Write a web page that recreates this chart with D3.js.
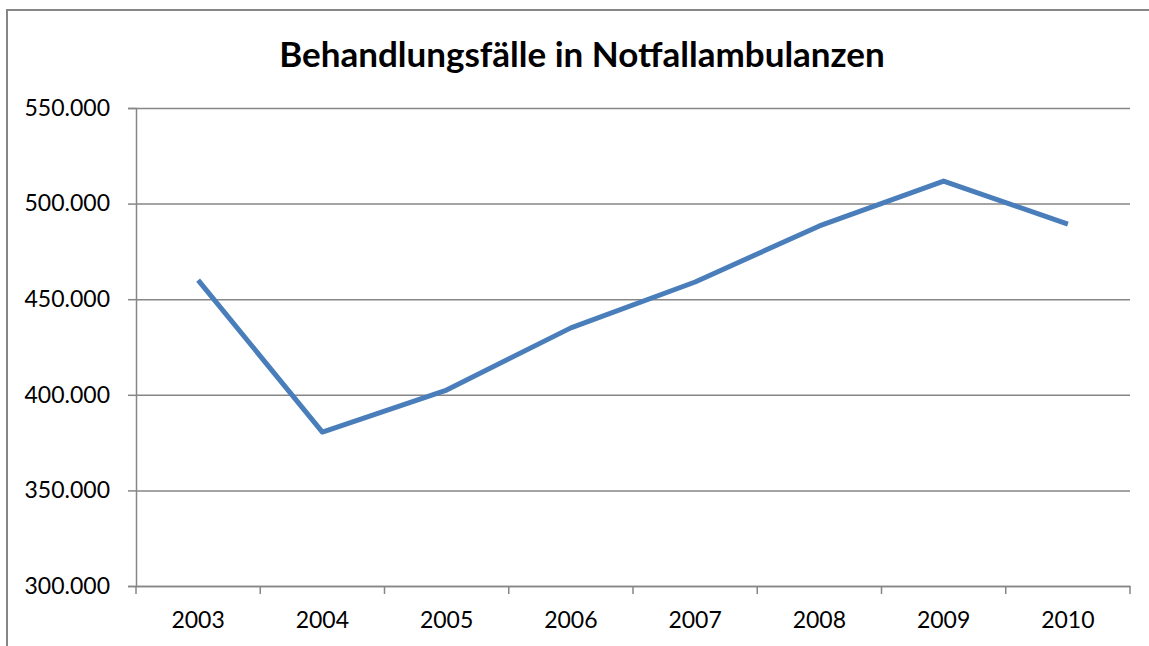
<!DOCTYPE html>
<html lang="de">
  <head>
    <meta charset="utf-8" />
    <title>Behandlungsfälle in Notfallambulanzen</title>
    <script src="https://d3js.org/d3.v7.min.js"></script>
    <style>
      body { margin: 0; background: #fff; }
      svg text { font-family: Lato, "Open Sans", sans-serif; fill: #000; }
      .axis path, .axis line { stroke: #868686; stroke-width: 1.5; }
      .grid line { stroke: #868686; stroke-width: 1.5; }
      .grid path { display: none; }
    </style>
  </head>
  <body>
    <svg id="chart" width="1149" height="646"></svg>
    <script>
      // Werte
      const years = ["2003", "2004", "2005", "2006", "2007", "2008", "2009", "2010"];
      const cases = [460000, 380500, 402500, 435000, 459000, 488300, 511800, 489300];
      const yTicks = [300000, 350000, 400000, 450000, 500000, 550000];
      const title = "Behandlungsfälle in Notfallambulanzen";

      const svg = d3.select("#chart");
      const margin = {top: 108, right: 19, bottom: 60, left: 136};
      const width = 1149 - margin.left - margin.right;
      const height = 646 - margin.top - margin.bottom;

      // äußerer Rahmen
      svg.append("rect")
        .attr("x", 7).attr("y", 10)
        .attr("width", 1160).attr("height", 660)
        .attr("fill", "none")
        .attr("stroke", "#868686")
        .attr("stroke-width", 2);

      svg.append("text")
        .attr("x", 582).attr("y", 67)
        .attr("text-anchor", "middle")
        .style("font-size", "35px")
        .style("font-weight", "bold")
        .text(title);

      const g = svg.append("g")
        .attr("transform", "translate(" + margin.left + "," + margin.top + ")");

      const x = d3.scaleBand().domain(years).range([0, width]);
      const y = d3.scaleLinear().domain([300000, 550000]).range([height, 0]);

      const fmt = d => d3.format(",")(d).replace(/,/g, ".");

      g.append("g")
        .attr("class", "grid")
        .call(d3.axisLeft(y).tickValues(yTicks).tickSize(-width).tickFormat(""));

      g.append("g")
        .attr("class", "axis")
        .call(d3.axisLeft(y).tickValues(yTicks).tickSizeOuter(0).tickSize(8).tickPadding(18).tickFormat(fmt))
        .selectAll("text")
        .style("font-size", "23px");

      const xAxis = g.append("g")
        .attr("class", "axis")
        .attr("transform", "translate(0," + height + ")")
        .call(d3.axisBottom(x).tickSize(0).tickPadding(26));
      xAxis.selectAll("text").style("font-size", "23px");

      // Trennstriche zwischen den Kategorien
      xAxis.selectAll("line.sep")
        .data(d3.range(years.length + 1))
        .join("line")
        .attr("class", "sep")
        .attr("x1", i => i * x.bandwidth())
        .attr("x2", i => i * x.bandwidth())
        .attr("y1", 0).attr("y2", 8);

      const line = d3.line()
        .x((d, i) => x(years[i]) + x.bandwidth() / 2)
        .y(d => y(d));

      g.append("path")
        .datum(cases)
        .attr("fill", "none")
        .attr("stroke", "#4a7ebb")
        .attr("stroke-width", 5)
        .attr("stroke-linejoin", "round")
        .attr("d", line);
    </script>
  </body>
</html>
